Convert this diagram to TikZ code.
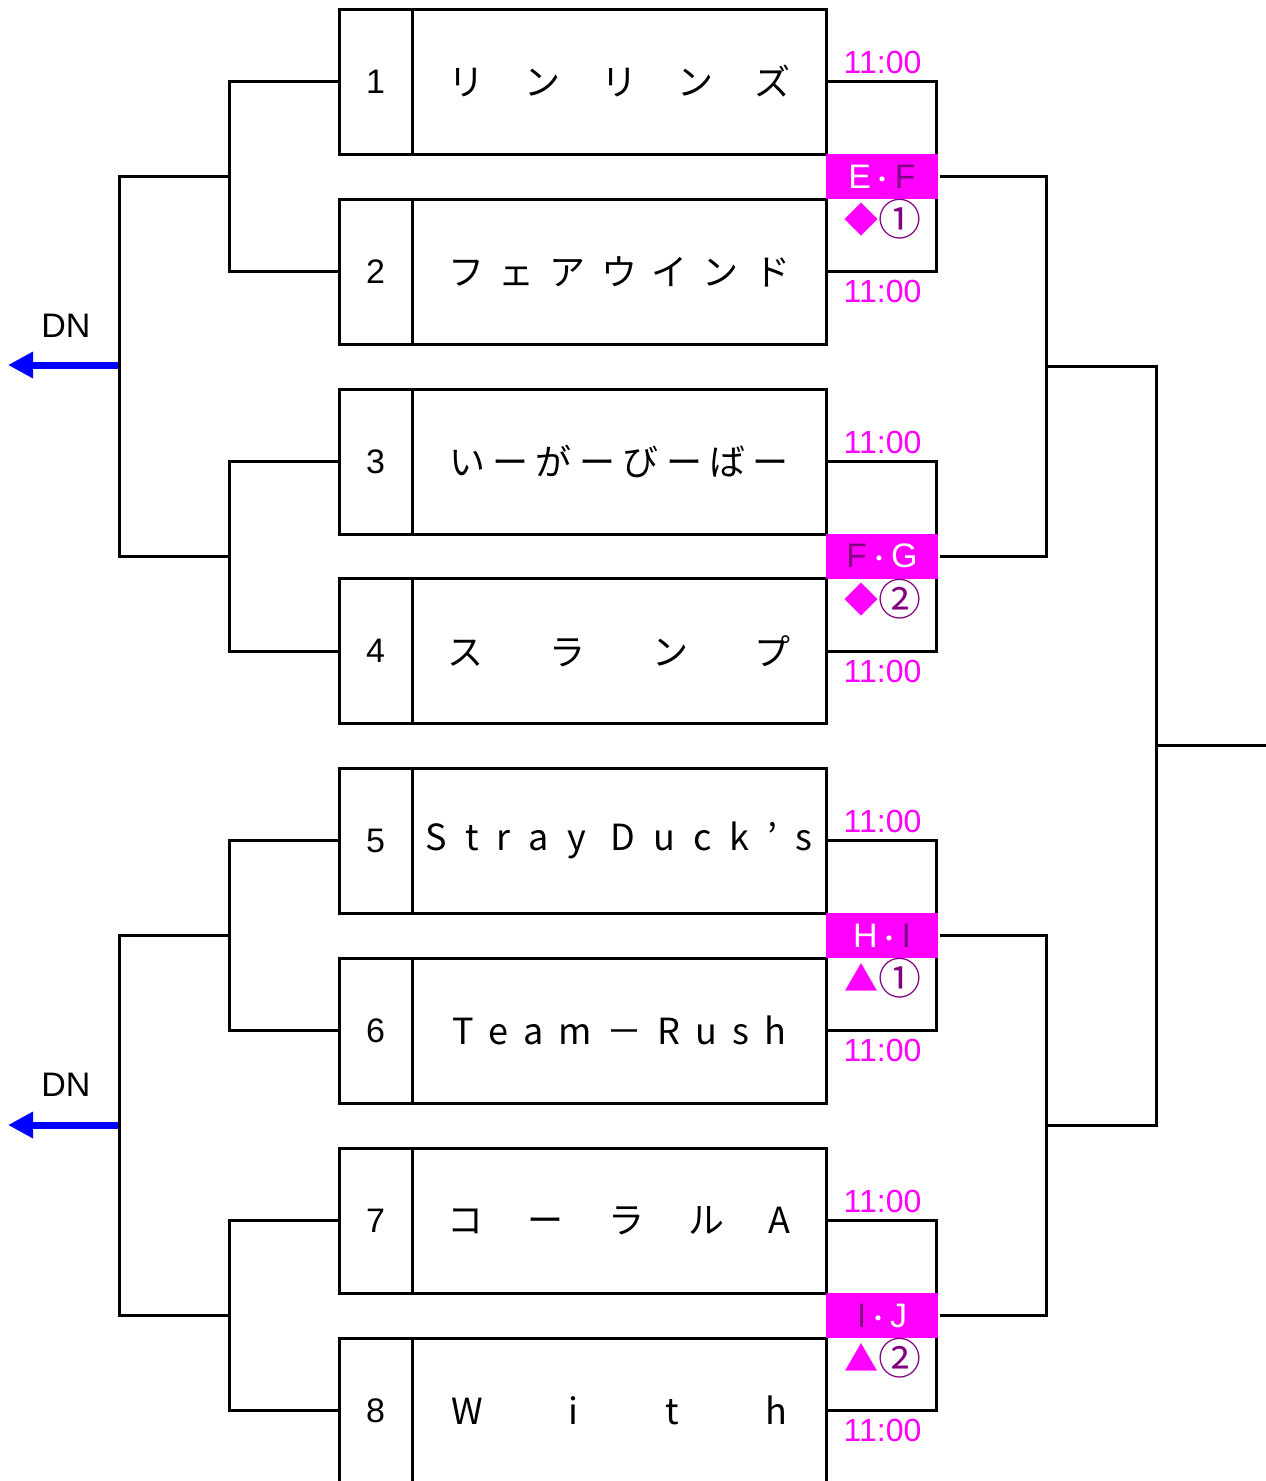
\documentclass[tikz,border=0pt]{standalone}
\usepackage{fontspec}
\usetikzlibrary{arrows.meta}
\newfontfamily\jpf{Noto Sans CJK JP}
\newfontfamily\lsf{Liberation Sans}
\definecolor{mag}{RGB}{255,0,255}
\definecolor{pur}{RGB}{128,0,128}
\definecolor{dnblue}{RGB}{0,0,255}
\newcommand\spr[2]{\hbox to #1pt{#2}}
\newcommand\mdot{{\jpf\fontsize{24}{24}\selectfont ・}}
\newcommand\circnum[1]{{\fontsize{43}{43}\selectfont #1}}
\newcommand\msym[1]{\raisebox{3pt}{\color{mag}#1}}
\begin{document}
\begin{tikzpicture}[x=1pt,y=-1pt,line width=3pt,
  numcell/.style={draw,minimum width=73pt,minimum height=145pt,inner sep=0pt,font=\lsf\fontsize{34}{34}\selectfont},
  namecell/.style={draw,minimum width=414pt,minimum height=145pt,inner sep=0pt,font=\jpf\fontsize{36}{36}\selectfont},
  timelab/.style={inner sep=0pt,text=mag,font=\lsf\fontsize{32}{32}\selectfont},
  matchbox/.style={fill=mag,draw=none,minimum width=112pt,minimum height=45pt,inner sep=0pt,font=\lsf\fontsize{34}{34}\selectfont},
  symlab/.style={inner sep=0pt,text=pur,font=\jpf\fontsize{34}{34}\selectfont},
  dnlab/.style={inner sep=0pt,font=\lsf\fontsize{34}{34}\selectfont},
  dnarrow/.style={dnblue,line width=7pt,-{Triangle[length=25pt,width=25pt]}}]
\useasboundingbox (0,0) rectangle (1266,1481);
\clip (0,0) rectangle (1266,1481);

% junction coordinates
\coordinate (a12) at (229,176.5);
\coordinate (a34) at (229,556);
\coordinate (a56) at (229,935.5);
\coordinate (a78) at (229,1315.5);
\coordinate (L1) at (119,176.5);
\coordinate (L2) at (119,556);
\coordinate (L3) at (119,935.5);
\coordinate (L4) at (119,1315.5);
\coordinate (Lm1) at (119,365);
\coordinate (Lm2) at (119,1125);
\coordinate (tip1) at (8,365);
\coordinate (tip2) at (8,1125);
\coordinate (r12) at (936,176.5);
\coordinate (r34) at (936,556);
\coordinate (r56) at (936,935.5);
\coordinate (r78) at (936,1315.5);
\coordinate (R1) at (1046,176.5);
\coordinate (R2) at (1046,556);
\coordinate (R3) at (1046,935.5);
\coordinate (R4) at (1046,1315.5);
\coordinate (Rm1) at (1046,366);
\coordinate (Rm2) at (1046,1125);
\coordinate (S1) at (1156,366);
\coordinate (S2) at (1156,1125);
\coordinate (Sm) at (1156,745);
\coordinate (fin) at (1266,745);

% blue DN arrows
\draw[dnarrow] (Lm1) -- (tip1);
\draw[dnarrow] (Lm2) -- (tip2);
\node[dnlab] (dn1) at (66,326) {DN};
\node[dnlab] (dn2) at (66,1085) {DN};

% team cells
\node[numcell] (n1) at (375.5,81.5) {1};
\node[namecell] (t1) at (619,81.5) {\spr{342}{リ\hfill ン\hfill リ\hfill ン\hfill ズ}};
\node[numcell] (n2) at (375.5,271.5) {2};
\node[namecell] (t2) at (619,271.5) {\spr{342}{フ\hfill ェ\hfill ア\hfill ウ\hfill イ\hfill ン\hfill ド}};
\node[numcell] (n3) at (375.5,461.5) {3};
\node[namecell] (t3) at (619,461.5) {\spr{340}{い\hfill ー\hfill が\hfill ー\hfill び\hfill ー\hfill ば\hfill ー}};
\node[numcell] (n4) at (375.5,651) {4};
\node[namecell] (t4) at (619,651) {\spr{343}{ス\hfill ラ\hfill ン\hfill プ}};
\node[numcell] (n5) at (375.5,840.5) {5};
\node[namecell] (t5) at (619,840.5) {\spr{387}{S\hfill t\hfill r\hfill a\hfill y\hfill\hspace{6pt}D\hfill u\hfill c\hfill k\hfill ’\hfill s}};
\node[numcell] (n6) at (375.5,1030.5) {6};
\node[namecell] (t6) at (619,1030.5) {\spr{334}{T\hfill e\hfill a\hfill m\hfill －\hfill R\hfill u\hfill s\hfill h}};
\node[numcell] (n7) at (375.5,1220.5) {7};
\node[namecell] (t7) at (619,1220.5) {\spr{343}{コ\hfill ー\hfill ラ\hfill ル\hfill A}};
\node[numcell] (n8) at (375.5,1410.5) {8};
\node[namecell] (t8) at (619,1410.5) {\spr{336}{W\hfill i\hfill t\hfill h}};

% left brackets
\draw (n1.west) -| (a12) |- (n2.west);
\draw (n3.west) -| (a34) |- (n4.west);
\draw (n5.west) -| (a56) |- (n6.west);
\draw (n7.west) -| (a78) |- (n8.west);
\draw (a12) -- (L1) -- (L2) -- (a34);
\draw (a56) -- (L3) -- (L4) -- (a78);

% right brackets
\draw (t1.east) -| (r12) |- (t2.east);
\draw (t3.east) -| (r34) |- (t4.east);
\draw (t5.east) -| (r56) |- (t6.east);
\draw (t7.east) -| (r78) |- (t8.east);

% match boxes
\node[matchbox] (mEF) at (882,176.5) {{\color{white}E\mdot}{\color{pur}F}};
\node[matchbox] (mFG) at (882,556) {{\color{pur}F}{\color{white}\mdot G}};
\node[matchbox] (mHI) at (882,935.5) {{\color{white}H\mdot}{\color{pur}I}};
\node[matchbox] (mIJ) at (882,1315.5) {{\color{pur}I}{\color{white}\mdot J}};

\draw (mEF.east) -- (R1) -- (R2) -- (mFG.east);
\draw (mHI.east) -- (R3) -- (R4) -- (mIJ.east);
\draw (Rm1) -- (S1) -- (S2) -- (Rm2);
\draw (Sm) -- (fin);

% symbols
\node[symlab] (s1) at (883,219) {\msym{◆}\circnum{①}};
\node[symlab] (s2) at (883,599) {\msym{◆}\circnum{②}};
\node[symlab] (s3) at (883,978) {\msym{▲}\circnum{①}};
\node[symlab] (s4) at (883,1358) {\msym{▲}\circnum{②}};

% times
\node[timelab] (tm1) at (882.5,62) {11:00};
\node[timelab] (tm2) at (882.5,291) {11:00};
\node[timelab] (tm3) at (882.5,442) {11:00};
\node[timelab] (tm4) at (882.5,671) {11:00};
\node[timelab] (tm5) at (882.5,821) {11:00};
\node[timelab] (tm6) at (882.5,1050) {11:00};
\node[timelab] (tm7) at (882.5,1201) {11:00};
\node[timelab] (tm8) at (882.5,1430) {11:00};
\end{tikzpicture}
\end{document}
